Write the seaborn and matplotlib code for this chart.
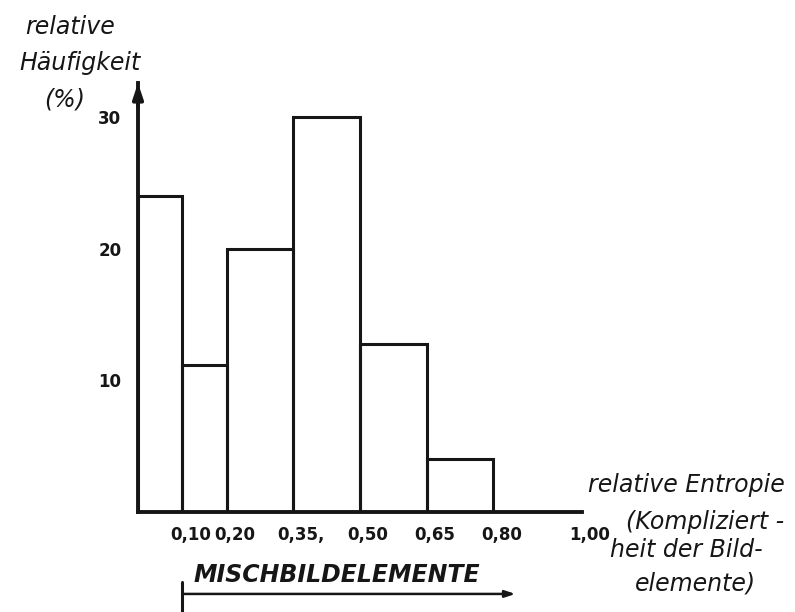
import numpy as np
import matplotlib
matplotlib.use("Agg")
import matplotlib.pyplot as plt
import matplotlib.transforms as mtrans
import seaborn as sns

# Histogram of relative entropy (bin edges and relative frequency in %)
bin_edges = [0.0, 0.10, 0.20, 0.35, 0.50, 0.65, 0.80]
freq_pct = [24.0, 11.2, 20.0, 30.0, 12.8, 4.0]
x_ticks = [0.10, 0.20, 0.35, 0.50, 0.65, 0.80, 1.00]
x_ticklabels = ["0,10", "0,20", "0,35,", "0,50", "0,65", "0,80", "1,00"]
y_ticks = [10, 20, 30]
y_ticklabels = ["10", "20", "30"]

ink = "#161616"

sns.set_style("white")
plt.rcParams["font.family"] = ["DejaVu Sans"]

fig = plt.figure(figsize=(7.95, 6.12), dpi=100)
ax = fig.add_axes([138 / 795, 100 / 612, 444 / 795, 429 / 612])

# Bars through seaborn: one weighted point per bin
mids = [(a + b) / 2 for a, b in zip(bin_edges[:-1], bin_edges[1:])]
sns.histplot(x=mids, weights=freq_pct, bins=bin_edges, stat="count",
             fill=False, element="bars", color=ink, linewidth=2.2, ax=ax)

ax.set_xlim(0, 1.0)
ax.set_ylim(0, 32.6)
ax.set_xlabel("")
ax.set_ylabel("")

for s in ["top", "right"]:
    ax.spines[s].set_visible(False)
for s in ["left", "bottom"]:
    ax.spines[s].set_linewidth(2.8)
    ax.spines[s].set_color(ink)

# arrow head on the y axis
ax.annotate("", xy=(0, 32.6), xytext=(0, 30.8),
            arrowprops=dict(arrowstyle="-|>,head_length=0.9,head_width=0.3",
                            color=ink, lw=2.8, shrinkA=0, shrinkB=0),
            annotation_clip=False)

ax.set_xticks(x_ticks)
ax.set_xticklabels(x_ticklabels)
ax.set_yticks(y_ticks)
ax.set_yticklabels(y_ticklabels)
ax.tick_params(axis="both", direction="inout", length=6, width=2, color=ink,
               labelcolor=ink)
ax.tick_params(axis="x", pad=7, labelsize=12)
ax.tick_params(axis="y", pad=9, labelsize=12)
for lab in ax.get_xticklabels() + ax.get_yticklabels():
    lab.set_fontweight("bold")
shift = mtrans.ScaledTranslation(8 / 100, 0, fig.dpi_scale_trans)
for lab in ax.get_xticklabels():
    lab.set_transform(lab.get_transform() + shift)

# y axis caption
cap = dict(fontsize=17, style="italic", color=ink, ha="center", va="center")
fig.text(70 / 795, 1 - 27 / 612, "relative", **cap)
fig.text(80 / 795, 1 - 63 / 612, "Häufigkeit", **cap)
fig.text(65 / 795, 1 - 100 / 612, "(%)", **cap)

# x axis caption
fig.text(686 / 795, 1 - 485 / 612, "relative Entropie", **cap)
fig.text(705 / 795, 1 - 522 / 612, "(Kompliziert -", **cap)
fig.text(686 / 795, 1 - 550 / 612, "heit der Bild-", **cap)
fig.text(695 / 795, 1 - 583 / 612, "elemente)", **cap)

# range marker for mixed picture elements
blend = mtrans.blended_transform_factory(ax.transData, ax.transAxes)
ax.text(0.125, -0.147, "MISCHBILDELEMENTE", transform=blend, fontsize=17,
        style="italic", fontweight="bold", color=ink, ha="left", va="center")
ax.annotate("", xy=(0.85, -0.191), xytext=(0.10, -0.191),
            xycoords=blend, textcoords=blend,
            arrowprops=dict(arrowstyle="-|>,head_length=0.6,head_width=0.2",
                            color=ink, lw=1.8, shrinkA=0, shrinkB=0),
            annotation_clip=False)
ax.plot([0.10, 0.10], [-0.163, -0.235], transform=blend, color=ink, lw=2.2,
        clip_on=False)

fig.savefig("out.png", dpi=100)
